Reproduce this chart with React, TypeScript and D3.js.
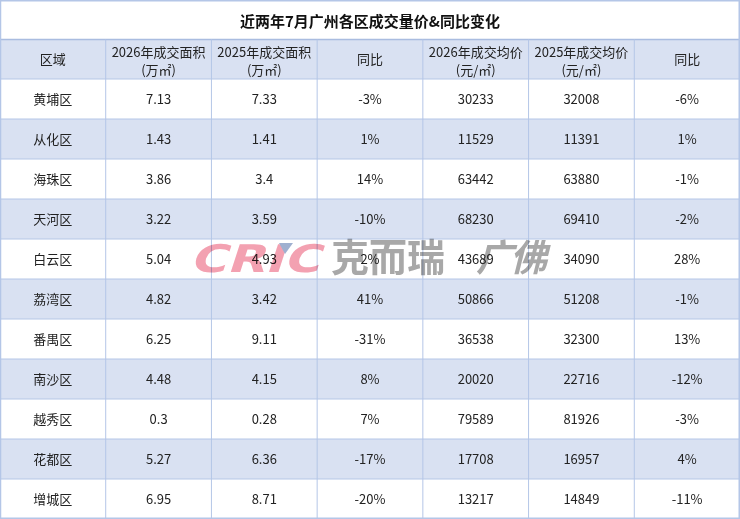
import React from "react";
import * as d3 from "d3";

const title = "近两年7月广州各区成交量价&同比变化";
const headers = [
  ["区域"],
  ["2026年成交面积", "(万㎡)"],
  ["2025年成交面积", "(万㎡)"],
  ["同比"],
  ["2026年成交均价", "(元/㎡)"],
  ["2025年成交均价", "(元/㎡)"],
  ["同比"],
];
const districts = ["黄埔区", "从化区", "海珠区", "天河区", "白云区", "荔湾区", "番禺区", "南沙区", "越秀区", "花都区", "增城区"];
const area2026 = [7.13, 1.43, 3.86, 3.22, 5.04, 4.82, 6.25, 4.48, 0.3, 5.27, 6.95];
const area2025 = [7.33, 1.41, 3.4, 3.59, 4.93, 3.42, 9.11, 4.15, 0.28, 6.36, 8.71];
const areaYoY = ["-3%", "1%", "14%", "-10%", "2%", "41%", "-31%", "8%", "7%", "-17%", "-20%"];
const price2026 = [30233, 11529, 63442, 68230, 43689, 50866, 36538, 20020, 79589, 17708, 13217];
const price2025 = [32008, 11391, 63880, 69410, 34090, 51208, 32300, 22716, 81926, 16957, 14849];
const priceYoY = ["-6%", "1%", "-1%", "-2%", "28%", "-1%", "13%", "-12%", "-3%", "4%", "-11%"];

const W = 740;
const H = 519;
const FONT = "'Noto Sans CJK SC', 'Microsoft YaHei', sans-serif";
const BAND = "#D9E1F2";
const GRID = "#B4C6E7";
const TEXT = "#222";

export default function App() {
  const cols = d3.range(headers.length);
  const x = d3.scaleBand<number>().domain(cols).range([0, W]);
  const titleH = 39.5;
  const headerH = 39.5;
  const y = d3
    .scaleBand<string>()
    .domain(districts)
    .range([titleH + headerH, H]);

  const rows = districts.map((d, i) => [
    d,
    String(area2026[i]),
    String(area2025[i]),
    areaYoY[i],
    String(price2026[i]),
    String(price2025[i]),
    priceYoY[i],
  ]);

  const rh = y.bandwidth();
  const cw = x.bandwidth();

  return (
    <div style={{ position: "absolute", left: 0, top: 0, width: W, height: H, background: "#fff" }}>
      <svg width={W} height={H} style={{ display: "block" }} fontFamily={FONT}>
        <rect x={0} y={0} width={W} height={H} fill="#fff" />
        {/* title */}
        <text x={W / 2} y={titleH / 2 + 2} dy="0.35em" textAnchor="middle" fontSize={15} fontWeight={700} fill="#111">
          {title}
        </text>
        {/* header */}
        <rect x={0} y={titleH} width={W} height={headerH} fill={BAND} />
        {headers.map((h, c) =>
          h.map((line, k) => (
            <text
              key={"h" + c + "_" + k}
              x={(x(c) as number) + cw / 2}
              y={h.length === 1 ? titleH + headerH / 2 + 4.5 : titleH + 17 + k * 18}
              textAnchor="middle"
              fontSize={13}
              fill={TEXT}
            >
              {line}
            </text>
          ))
        )}
        {/* body */}
        {rows.map((r, i) => (
          <g key={"r" + i}>
            <rect x={0} y={y(districts[i]) as number} width={W} height={rh} fill={i % 2 === 1 ? BAND : "#fff"} />
            {r.map((v, c) => (
              <text
                key={c}
                x={(x(c) as number) + cw / 2}
                y={(y(districts[i]) as number) + rh / 2}
                dy="0.35em"
                textAnchor="middle"
                fontSize={13}
                fill={TEXT}
              >
                {v}
              </text>
            ))}
          </g>
        ))}
        {/* grid lines */}
        {[titleH + headerH, ...districts.map((d) => (y(d) as number) + rh)].map((yy, k) => (
          <line key={"hl" + k} x1={0} x2={W} y1={yy} y2={yy} stroke={GRID} strokeWidth={1} />
        ))}
        <line x1={0} x2={W} y1={titleH} y2={titleH} stroke="#A9BCE0" strokeWidth={1.5} />
        <line x1={0} x2={W} y1={0.75} y2={0.75} stroke={GRID} strokeWidth={1.5} />
        {cols.slice(1).map((c) => (
          <line key={"vl" + c} x1={x(c) as number} x2={x(c) as number} y1={titleH} y2={H} stroke={GRID} strokeWidth={1} />
        ))}
        <line x1={0.5} x2={0.5} y1={0} y2={H} stroke={GRID} strokeWidth={1.5} />
        <line x1={W - 0.75} x2={W - 0.75} y1={0} y2={H} stroke={GRID} strokeWidth={1.5} />
        <line x1={0} x2={W} y1={H - 0.75} y2={H - 0.75} stroke={GRID} strokeWidth={1.5} />
        {/* watermark */}
        <g style={{ mixBlendMode: "multiply" }}>
          <text
            x={190}
            y={272}
            fontSize={38}
            fontWeight={900}
            fontFamily="'DejaVu Sans', sans-serif"
            fill="#F3A1B1"
            textLength={130}
            lengthAdjust="spacingAndGlyphs"
            transform="translate(48,0) skewX(-18) translate(40,0)"
          >
            CRIC
          </text>
          <path d="M279,243 L293,243 L285,254 Z" fill="#9FB0D0" />
          <text x={331} y={271} fontSize={38} fontWeight={700} fill="#A8A8A8" fontFamily={FONT}>
            克而瑞
          </text>
          <text x={476} y={271} fontSize={37} fontWeight={700} fontStyle="italic" fill="#A8A8A8" fontFamily={FONT} letterSpacing={-3}>
            广佛
          </text>
        </g>
      </svg>
    </div>
  );
}
